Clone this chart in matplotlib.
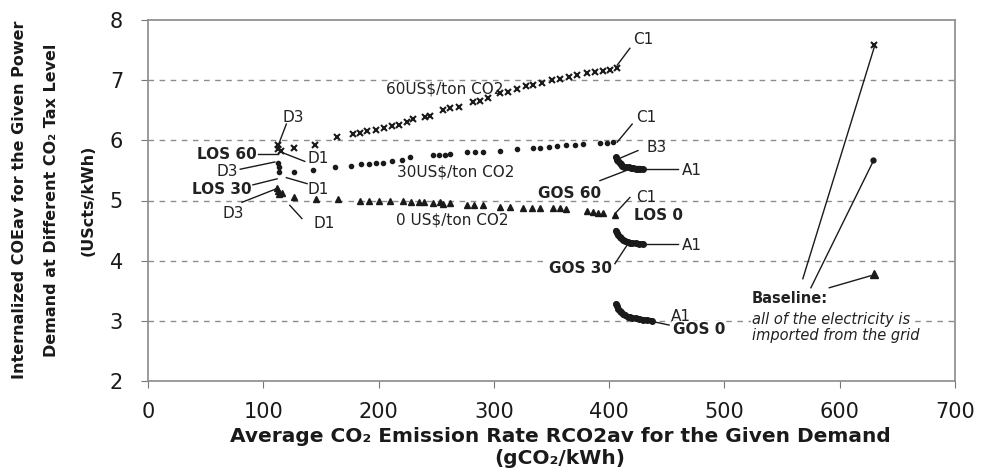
import matplotlib
matplotlib.use("Agg")
import matplotlib.pyplot as plt

plt.rcParams["font.family"] = ["DejaVu Sans"]

# ---------------------------------------------------
# data
# ---------------------------------------------------

# 60 US$/ton CO2 (x markers)
tax60_x = [113, 115, 113, 127, 145, 164, 178, 184, 190, 198, 205, 212, 218, 225, 230,
           240, 245, 256, 262, 270, 282, 288, 295, 305, 312, 320, 328, 334, 342, 350,
           357, 365, 372, 381, 388, 395, 401, 407]
tax60_y = [5.92, 5.82, 5.86, 5.88, 5.93, 6.05, 6.10, 6.13, 6.15, 6.18, 6.20, 6.24, 6.26, 6.30, 6.35,
           6.38, 6.40, 6.50, 6.53, 6.55, 6.63, 6.66, 6.70, 6.78, 6.80, 6.86, 6.90, 6.92, 6.95, 7.00,
           7.02, 7.05, 7.08, 7.12, 7.14, 7.15, 7.17, 7.20]

# 30 US$/ton CO2 (dots)
tax30_x = [113, 114, 114, 127, 143, 162, 176, 185, 192, 198, 204, 212, 220, 227, 247,
           252, 258, 262, 277, 284, 291, 305, 320, 334, 340, 348, 355, 363, 370, 377,
           392, 398, 403]
tax30_y = [5.62, 5.55, 5.47, 5.47, 5.50, 5.55, 5.58, 5.60, 5.60, 5.62, 5.63, 5.66, 5.68, 5.72, 5.75,
           5.75, 5.76, 5.77, 5.80, 5.80, 5.81, 5.83, 5.86, 5.88, 5.88, 5.89, 5.90, 5.93, 5.93, 5.94,
           5.95, 5.96, 5.97]

# 0 US$/ton CO2 (triangles)
tax0_x = [112, 113, 114, 116, 127, 146, 165, 184, 192, 200, 210, 221, 228, 235, 239,
          247, 253, 256, 262, 277, 283, 291, 305, 314, 325, 333, 340, 351, 357, 363,
          381, 386, 390, 395, 405]
tax0_y = [5.20, 5.15, 5.10, 5.12, 5.05, 5.03, 5.02, 5.00, 5.00, 5.00, 5.00, 4.99, 4.98, 4.98, 4.98,
          4.96, 4.97, 4.95, 4.96, 4.93, 4.93, 4.93, 4.90, 4.90, 4.88, 4.88, 4.88, 4.88, 4.87, 4.86,
          4.82, 4.81, 4.80, 4.80, 4.76]

# GOS clusters (grid-connected options)
gos60_x = [406, 407, 408, 409, 410, 411, 413, 415, 417, 419, 421, 423, 425, 427, 429]
gos60_y = [5.72, 5.68, 5.65, 5.62, 5.60, 5.58, 5.56, 5.55, 5.55, 5.54, 5.54, 5.53, 5.53, 5.53, 5.52]
gos30_x = [406, 407, 408, 409, 410, 412, 414, 416, 418, 420, 423, 426, 429]
gos30_y = [4.50, 4.46, 4.43, 4.40, 4.37, 4.35, 4.33, 4.31, 4.30, 4.29, 4.29, 4.28, 4.28]
gos0_x = [406, 407, 408, 409, 410, 412, 414, 416, 418, 420, 423, 426, 429, 433, 437]
gos0_y = [3.28, 3.24, 3.20, 3.17, 3.14, 3.11, 3.09, 3.07, 3.06, 3.05, 3.04, 3.03, 3.02, 3.01, 3.00]

# baseline: all electricity imported from the grid
base_x = [630, 629, 630]
base_y = [7.58, 5.67, 3.78]

# point labels: (text, x, y, ha, weight)
point_labels = [
    ("D3", 126, 6.38, "center", "normal"),
    ("LOS 60", 94, 5.77, "right", "bold"),
    ("D1", 148, 5.70, "center", "normal"),
    ("D3", 69, 5.48, "center", "normal"),
    ("LOS 30", 90, 5.18, "right", "bold"),
    ("D1", 148, 5.18, "center", "normal"),
    ("D3", 74, 4.78, "center", "normal"),
    ("D1", 153, 4.62, "center", "normal"),
    ("60US$/ton CO2", 257, 6.85, "center", "normal"),
    ("30US$/ton CO2", 267, 5.47, "center", "normal"),
    ("0 US$/ton CO2", 264, 4.67, "center", "normal"),
    ("C1", 430, 7.67, "center", "normal"),
    ("C1", 432, 6.38, "center", "normal"),
    ("B3", 441, 5.88, "center", "normal"),
    ("A1", 472, 5.50, "center", "normal"),
    ("GOS 60", 366, 5.12, "center", "bold"),
    ("C1", 432, 5.05, "center", "normal"),
    ("LOS 0", 443, 4.75, "center", "bold"),
    ("A1", 472, 4.26, "center", "normal"),
    ("A1", 462, 3.08, "center", "normal"),
]

# leader lines: (x0, y0, x1, y1)
leaders = [
    (120, 6.27, 113, 5.92),
    (95, 5.78, 113, 5.78),
    (136, 5.65, 116, 5.80),
    (80, 5.52, 110, 5.64),
    (91, 5.26, 112, 5.36),
    (138, 5.28, 120, 5.38),
    (81.5, 4.97, 112, 5.20),
    (133.5, 4.70, 123, 4.92),
    (418, 7.53, 407, 7.25),
    (420, 6.27, 407, 5.97),
    (425, 5.83, 409, 5.70),
    (431, 5.52, 460, 5.52),
    (392, 5.33, 415, 5.50),
    (418, 5.05, 405, 4.78),
    (429, 4.28, 460, 4.28),
    (405, 3.95, 418, 4.33),
    (430, 3.02, 452, 2.93),
    (568, 3.70, 630, 7.55),
    (575, 3.55, 629, 5.65),
    (591, 3.55, 627, 3.75),
]


def main():
    fig = plt.figure(figsize=(9.82, 4.68), dpi=100)
    ax = fig.add_axes([148 / 982, 1 - 381 / 468, 807 / 982, 361 / 468])

    ink = "#1a1a1a"
    txt_col = "#222222"

    ax.plot(tax60_x, tax60_y, linestyle="None", marker="x", markersize=4.5,
            markeredgewidth=1.5, color=ink, zorder=4)
    ax.plot(tax30_x, tax30_y, linestyle="None", marker="o", markersize=3,
            color=ink, zorder=4)
    ax.plot(tax0_x, tax0_y, linestyle="None", marker="^", markersize=5,
            color=ink, zorder=4)

    for gx, gy in [(gos60_x, gos60_y), (gos30_x, gos30_y), (gos0_x, gos0_y)]:
        ax.plot(gx, gy, linestyle="-", linewidth=4, marker="o", markersize=4,
                color=ink, solid_capstyle="round", zorder=4)

    ax.plot(base_x[0], base_y[0], marker="x", markersize=4.5, markeredgewidth=1.5,
            color=ink, linestyle="None", zorder=4)
    ax.plot(base_x[1], base_y[1], marker="o", markersize=3.5, color=ink,
            linestyle="None", zorder=4)
    ax.plot(base_x[2], base_y[2], marker="^", markersize=5.5, color=ink,
            linestyle="None", zorder=4)

    for x0, y0, x1, y1 in leaders:
        ax.plot([x0, x1], [y0, y1], color=ink, linewidth=1.0, zorder=3)

    for txt, x, y, ha, wt in point_labels:
        ax.text(x, y, txt, ha=ha, va="center", fontsize=11, fontweight=wt,
                color=txt_col, zorder=3)

    # labels sitting on grid lines hide them
    box = dict(facecolor="white", edgecolor="none", pad=0.5)
    ax.text(375, 3.87, "GOS 30", ha="center", va="center", fontsize=11,
            fontweight="bold", color=txt_col, bbox=box, zorder=3)
    ax.text(478, 2.86, "GOS 0", ha="center", va="center", fontsize=11,
            fontweight="bold", color=txt_col, bbox=box, zorder=3)
    ax.text(524, 3.37, "Baseline:", ha="left", va="center", fontsize=10.5,
            fontweight="bold", color=txt_col, zorder=3)
    ax.text(524, 3.03, "all of the electricity is", ha="left", va="center",
            fontsize=10.5, style="italic", color=txt_col, bbox=box, zorder=3)
    ax.text(524, 2.75, "imported from the grid", ha="left", va="center",
            fontsize=10.5, style="italic", color=txt_col, bbox=box, zorder=3)

    ax.set_xlim(0, 700)
    ax.set_ylim(2, 8)
    ax.set_xticks(range(0, 701, 100))
    ax.set_yticks(range(2, 9))
    ax.tick_params(labelsize=15, length=5, color="#777777", labelcolor="#1a1a1a")
    ax.tick_params(axis="x", pad=10)
    ax.tick_params(axis="y", pad=13)

    for y in [3, 4, 5, 6, 7]:
        ax.axhline(y, color="#8c8c8c", linestyle=(0, (4, 4)), linewidth=1.0, zorder=1)

    for sp in ax.spines.values():
        sp.set_color("#8a8a8a")
        sp.set_linewidth(1.2)

    fig.text(560 / 982, 1 - 436 / 468,
             "Average CO₂ Emission Rate RCO2av for the Given Demand",
             ha="center", va="center", fontsize=14.5, fontweight="bold", color="#1a1a1a")
    fig.text(560 / 982, 1 - 459 / 468, "(gCO₂/kWh)",
             ha="center", va="center", fontsize=14.5, fontweight="bold", color="#1a1a1a")

    ylines = [
        (20, "Internalized COEav for the Given Power"),
        (52, "Demand at Different CO₂ Tax Level"),
        (88, "(UScts/kWh)"),
    ]
    for px, txt in ylines:
        fig.text(px / 982, 1 - 200 / 468, txt, rotation=90, ha="center",
                 va="center", fontsize=11.5, fontweight="bold", color="#1a1a1a")

    fig.savefig("out.png", dpi=100)


if __name__ == "__main__":
    main()
